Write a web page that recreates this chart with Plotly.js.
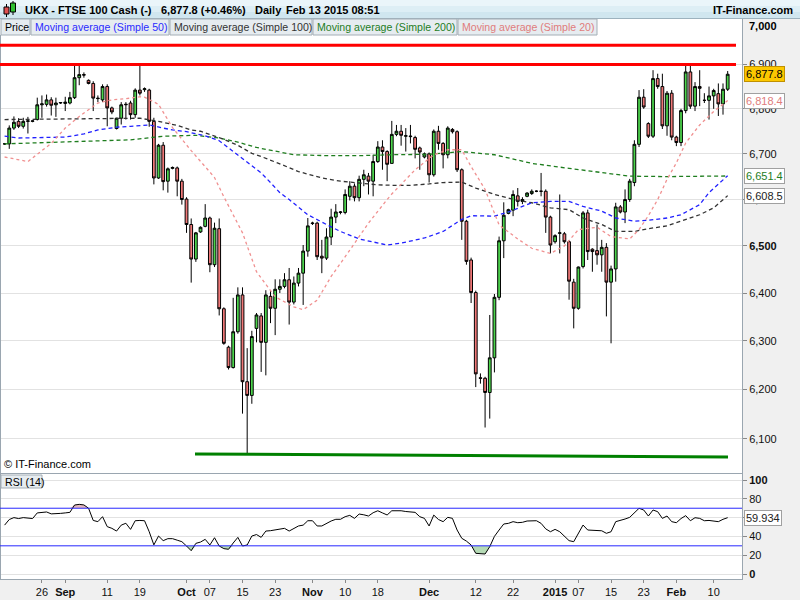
<!DOCTYPE html>
<html><head><meta charset="utf-8">
<script src="https://cdn.plot.ly/plotly-3.0.1.min.js"></script>
<style>html,body{margin:0;padding:0;background:#fff}#chart{width:800px;height:600px}</style>
</head><body><div id="chart"></div>
<script>
// ---- sessions (Sun-Fri CFD sessions) ----
const sessionDays = {
  "2014-08": [17,18,19,20,21,22,24,25,26,27,28,29,31],
  "2014-09": [1,2,3,4,5,7,8,9,10,11,12,14,15,16,17,18,19,21,22,23,24,25,26,28,29,30],
  "2014-10": [1,2,3,5,6,7,8,9,10,12,13,14,15,16,17,19,20,21,22,23,24,26,27,28,29,30,31],
  "2014-11": [2,3,4,5,6,7,9,10,11,12,13,14,16,17,18,19,20,21,23,24,25,26,27,28,30],
  "2014-12": [1,2,3,4,5,7,8,9,10,11,12,14,15,16,17,18,19,21,22,23,24,25,26,28,29,30,31],
  "2015-01": [1,2,4,5,6,7,8,9,11,12,13,14,15,16,18,19,20,21,22,23,25,26,27,28,29,30],
  "2015-02": [1,2,3,4,5,6,8,9,10,11,12,13]
};
const dates = [];
Object.keys(sessionDays).forEach(m => sessionDays[m].forEach(d => dates.push(m + "-" + String(d).padStart(2,"0"))));

const open = [6722,6722,6757,6772,6761,6772,6772,6776,6809,6810,
6820,6809,6813,6812,6813,6825,6870,6877,6864,6857,
6824,6820,6850,6802,6756,6779,6809,6813,6787,6842,
6843,6842,6772,6647,6719,6640,6668,6669,6640,6601,
6546,6472,6530,6542,6560,6460,6537,6367,6287,6245,
6319,6396,6216,6188,6326,6352,6297,6393,6368,6408,
6414,6428,6381,6421,6442,6489,6548,6549,6478,6474,
6519,6562,6572,6572,6607,6629,6604,6644,6651,6640,
6683,6715,6705,6679,6743,6750,6739,6738,6736,6713,
6693,6700,6654,6750,6723,6698,6754,6749,6665,6553,
6470,6401,6224,6223,6194,6265,6391,6511,6570,6577,
6608,6596,6607,6613,6618,6618,6618,6562,6509,6527,
6526,6509,6423,6368,6456,6571,6493,6490,6481,6497,
6423,6451,6584,6573,6600,6637,6721,6826,6767,6739,
6868,6850,6762,6835,6737,6725,6796,6883,6806,6850,
6819,6819,6829,6834,6811,6844];
const high = [6724,6763,6783,6779,6780,6782,6774,6825,6830,6832,
6826,6825,6815,6827,6838,6900,6898,6882,6866,6862,
6830,6855,6855,6805,6780,6815,6815,6818,6846,6902,
6848,6845,6780,6722,6726,6670,6672,6672,6645,6605,
6559,6530,6542,6590,6563,6550,6559,6370,6290,6390,
6412,6412,6285,6321,6358,6358,6406,6406,6429,6429,
6442,6453,6435,6453,6502,6560,6552,6552,6513,6538,
6580,6590,6575,6622,6640,6635,6652,6665,6658,6698,
6728,6730,6708,6773,6764,6764,6757,6764,6740,6716,
6703,6703,6754,6762,6726,6761,6757,6752,6668,6556,
6475,6405,6233,6226,6354,6398,6520,6594,6580,6620,
6625,6605,6616,6622,6620,6658,6622,6565,6525,6611,
6530,6512,6430,6456,6575,6578,6495,6546,6513,6506,
6458,6593,6588,6622,6645,6730,6842,6844,6770,6887,
6879,6879,6840,6842,6740,6800,6900,6900,6860,6887,
6835,6850,6845,6857,6857,6885];
const low = [6720,6711,6753,6757,6756,6745,6770,6774,6780,6805,
6785,6782,6811,6795,6810,6822,6853,6870,6855,6795,
6815,6815,6761,6788,6754,6765,6776,6776,6780,6830,
6838,6760,6633,6645,6620,6615,6666,6607,6589,6528,
6422,6466,6528,6540,6444,6455,6353,6292,6241,6243,
6315,6151,6070,6171,6297,6236,6229,6337,6312,6400,
6410,6334,6376,6414,6375,6477,6545,6470,6442,6470,
6502,6549,6568,6568,6598,6596,6596,6629,6611,6607,
6680,6665,6640,6679,6739,6718,6705,6723,6690,6665,
6690,6637,6650,6709,6668,6690,6745,6660,6513,6460,
6379,6205,6212,6123,6141,6235,6385,6474,6568,6564,
6585,6590,6605,6610,6616,6607,6528,6484,6505,6484,
6505,6386,6326,6365,6452,6470,6445,6460,6445,6351,
6295,6424,6570,6549,6595,6629,6715,6800,6735,6735,
6845,6755,6740,6730,6717,6717,6790,6800,6795,6806,
6813,6776,6800,6784,6787,6840];
const close = [6722,6757,6770,6761,6772,6773,6773,6809,6811,6820,
6808,6813,6814,6815,6825,6870,6877,6876,6857,6824,
6823,6850,6802,6793,6779,6809,6810,6787,6842,6835,
6845,6772,6647,6719,6639,6667,6670,6640,6600,6546,
6472,6528,6540,6560,6460,6538,6367,6295,6245,6319,
6396,6216,6188,6309,6354,6297,6396,6368,6408,6414,
6428,6381,6421,6442,6489,6543,6549,6477,6474,6519,
6562,6573,6573,6611,6629,6604,6644,6654,6640,6683,
6715,6705,6677,6743,6750,6741,6740,6739,6710,6704,
6700,6654,6750,6723,6698,6757,6749,6665,6553,6467,
6401,6232,6223,6194,6265,6391,6511,6566,6578,6611,
6596,6600,6614,6618,6618,6618,6562,6502,6522,6528,
6509,6425,6368,6455,6571,6488,6488,6481,6497,6423,
6451,6584,6573,6600,6640,6721,6826,6804,6739,6868,
6850,6762,6835,6737,6725,6796,6883,6806,6850,6846,
6819,6829,6841,6811,6844,6877.8];

// Moving averages (date, value)
const sma20Dates = ["2014-08-17","2014-08-22","2014-08-26","2014-08-28","2014-09-01","2014-09-04","2014-09-09","2014-09-12","2014-09-17","2014-09-19","2014-09-21","2014-09-24","2014-09-28","2014-10-02","2014-10-07","2014-10-08","2014-10-10","2014-10-15","2014-10-19","2014-10-20","2014-10-23","2014-10-28","2014-10-30","2014-11-03","2014-11-06","2014-11-11","2014-11-16","2014-11-20","2014-11-21","2014-11-24","2014-11-27","2014-12-02","2014-12-05","2014-12-09","2014-12-11","2014-12-15","2014-12-18","2014-12-23","2014-12-26","2014-12-31","2015-01-04","2015-01-07","2015-01-12","2015-01-15","2015-01-20","2015-01-22","2015-01-25","2015-01-27","2015-01-29","2015-02-01","2015-02-03","2015-02-06","2015-02-10","2015-02-13"];
const sma20Vals = [6693,6683,6707,6723,6757,6783,6813,6820,6824,6827,6826,6810,6758,6707,6660,6648,6606,6528,6445,6432,6392,6371,6365,6385,6435,6491,6549,6600,6612,6633,6665,6698,6709,6709,6672,6622,6545,6515,6495,6484,6500,6535,6540,6520,6515,6535,6565,6600,6644,6680,6724,6764,6794,6818.4];

const sma50Dates = ["2014-08-17","2014-08-20","2014-09-01","2014-09-05","2014-09-09","2014-09-14","2014-09-17","2014-09-22","2014-09-25","2014-09-28","2014-10-01","2014-10-06","2014-10-09","2014-10-13","2014-10-16","2014-10-19","2014-10-20","2014-10-22","2014-10-24","2014-10-27","2014-10-31","2014-11-05","2014-11-09","2014-11-13","2014-11-20","2014-11-24","2014-11-30","2014-12-04","2014-12-09","2014-12-11","2014-12-17","2014-12-21","2014-12-26","2014-12-31","2015-01-05","2015-01-08","2015-01-13","2015-01-16","2015-01-21","2015-01-25","2015-01-29","2015-02-02","2015-02-06","2015-02-09","2015-02-13"];
const sma50Vals = [6739,6735,6737,6744,6753,6759,6761,6764,6757,6753,6749,6740,6729,6705,6683,6665,6658,6637,6615,6600,6567,6546,6531,6515,6502,6506,6517,6531,6557,6565,6564,6573,6593,6596,6596,6585,6575,6560,6553,6555,6560,6567,6589,6615,6652];

const sma100Dates = ["2014-08-17","2014-08-28","2014-09-09","2014-09-19","2014-09-24","2014-09-29","2014-10-02","2014-10-05","2014-10-09","2014-10-14","2014-10-17","2014-10-20","2014-10-24","2014-10-29","2014-11-04","2014-11-09","2014-11-13","2014-11-18","2014-11-21","2014-11-26","2014-12-01","2014-12-04","2014-12-09","2014-12-12","2014-12-17","2014-12-21","2014-12-23","2014-12-26","2014-12-31","2015-01-05","2015-01-08","2015-01-13","2015-01-16","2015-01-21","2015-01-25","2015-01-29","2015-02-02","2015-02-06","2015-02-10","2015-02-13"];
const sma100Vals = [6776,6777,6778,6779,6772,6763,6753,6750,6736,6719,6701,6694,6678,6661,6647,6640,6636,6632,6631,6631,6634,6637,6638,6625,6611,6603,6598,6593,6582,6578,6560,6546,6531,6531,6537,6543,6553,6567,6582,6608.5];

const sma200Dates = ["2014-08-17","2014-08-24","2014-09-01","2014-09-09","2014-09-17","2014-09-25","2014-10-03","2014-10-09","2014-10-14","2014-10-19","2014-10-24","2014-10-28","2014-11-05","2014-11-13","2014-11-21","2014-12-01","2014-12-09","2014-12-17","2014-12-21","2014-12-26","2015-01-05","2015-01-13","2015-01-20","2015-01-29","2015-02-13"];
const sma200Vals = [6722,6724,6725,6728,6731,6739,6741,6735,6726,6714,6705,6698,6696,6696,6698,6699,6705,6698,6691,6679,6668,6658,6651,6650,6651.4];

const rsi = [52,58,60,59,60,59.5,59,65,65.5,66,
64,64,64.5,65,65.6,73.4,74.1,73.5,70,57,
55.7,61,50.4,48.6,45.7,52,54,47.5,56.7,57,
56.7,45,31,40.4,35.5,37.6,37.6,36,34.4,29.8,
24.8,32.6,34,36.9,30.9,38.6,29.8,27,26.3,33,
39,29.8,30.9,40.4,42,39,45.7,46.1,47,48,
48.6,45.7,48.6,51.1,52,56.7,56.7,51.1,51.1,54,
56.4,58.2,58.2,61,62.4,59.2,63.8,63,61.7,65.2,
67.3,65,62.8,67.3,67.5,67.3,66.5,66.3,65.6,61,
59.2,51.1,62.7,58,55.7,60.3,59.2,46.8,38,35,
30.9,22,21.8,21.3,29.1,40,46.8,53.2,53.9,55.7,
54.6,55,56.4,56.5,56.7,53.9,48,45,47.5,45,
40.4,35.5,34.4,43,52.1,46.8,46.5,46.8,46,43.3,
45,55.7,56.7,58.5,60.3,65,69.9,68.1,61.7,68.1,
66.3,59.2,61.7,55.7,54.6,59,62.1,56.7,59.9,59.2,
56.7,57,56.7,55.7,58.2,59.934];

const resistanceLevels = [6944, 6900];
const supportStart = 6070, supportEnd = 6064;
const rsiUpper = 70, rsiLower = 30;

const tickDates = ["2014-08-26","2014-09-01","2014-09-11","2014-09-19","2014-10-01","2014-10-07","2014-10-15","2014-10-23","2014-11-02","2014-11-10","2014-11-18","2014-12-01","2014-12-12","2014-12-22","2015-01-01","2015-01-07","2015-01-15","2015-01-23","2015-02-01","2015-02-10"];
const tickText = ["26","<b>Sep</b>","11","19","<b>Oct</b>","07","15","23","<b>Nov</b>","10","18","<b>Dec</b>","12","22","<b>2015</b>","07","15","23","<b>Feb</b>","10"];
const priceTicks = [6100,6200,6300,6400,6500,6600,6700,6800,6900];
const priceTickText = ["6,100","6,200","6,300","6,400","<b>6,500</b>","6,600","6,700","6,800","6,900"];

// ---- geometry helpers (pixel -> paper) ----
const W = 800, H = 600;
const px = x => x / W, py = y => 1 - y / H;
const FONT = "Liberation Sans, Arial, sans-serif";

const maLine = (xs, ys, color, dash) => ({type:"scatter", mode:"lines", x:xs, y:ys, xaxis:"x", yaxis:"y",
  line:{color:color, width:1.3, dash:dash}, hoverinfo:"skip", showlegend:false});

const traces = [
  {type:"candlestick", x:dates, open:open, high:high, low:low, close:close, xaxis:"x", yaxis:"y",
   increasing:{fillcolor:"#4cd44c", line:{color:"#000", width:1}},
   decreasing:{fillcolor:"#f07878", line:{color:"#000", width:1}},
   whiskerwidth:0, hoverinfo:"skip", showlegend:false},
  maLine(sma200Dates, sma200Vals, "#1e7d1e", "4px,3px"),
  maLine(sma100Dates, sma100Vals, "#333333", "4px,3px"),
  maLine(sma50Dates, sma50Vals, "#2020ff", "4px,3px"),
  maLine(sma20Dates, sma20Vals, "#f09090", "3px,3px"),
  // RSI shading
  {type:"scatter", mode:"lines", x:dates, y:dates.map(()=>rsiUpper), xaxis:"x", yaxis:"y2", line:{width:0}, hoverinfo:"skip", showlegend:false},
  {type:"scatter", mode:"lines", x:dates, y:rsi.map(v=>Math.max(v,rsiUpper)), xaxis:"x", yaxis:"y2", line:{width:0}, fill:"tonexty", fillcolor:"#e3b8bd", hoverinfo:"skip", showlegend:false},
  {type:"scatter", mode:"lines", x:dates, y:dates.map(()=>rsiLower), xaxis:"x", yaxis:"y2", line:{width:0}, hoverinfo:"skip", showlegend:false},
  {type:"scatter", mode:"lines", x:dates, y:rsi.map(v=>Math.min(v,rsiLower)), xaxis:"x", yaxis:"y2", line:{width:0}, fill:"tonexty", fillcolor:"#b5dab5", hoverinfo:"skip", showlegend:false},
  {type:"scatter", mode:"lines", x:dates, y:rsi, xaxis:"x", yaxis:"y2", line:{color:"#000", width:1}, hoverinfo:"skip", showlegend:false}
];

const lg = Math.log10;
const shapes = [
  // title bar gradient
  {type:"rect", xref:"paper", yref:"paper", x0:0, x1:1, y0:py(6), y1:py(0), fillcolor:"#eaf5fa", line:{width:0}, layer:"below"},
  {type:"rect", xref:"paper", yref:"paper", x0:0, x1:1, y0:py(12), y1:py(6), fillcolor:"#ddeef5", line:{width:0}, layer:"below"},
  {type:"rect", xref:"paper", yref:"paper", x0:0, x1:1, y0:py(18.5), y1:py(12), fillcolor:"#d0e6ef", line:{width:0}, layer:"below"},
  {type:"line", xref:"paper", yref:"paper", x0:0, x1:1, y0:py(18.5), y1:py(18.5), line:{color:"#9db2be", width:1}},
  // right axis panel & bottom strip
  {type:"rect", xref:"paper", yref:"paper", x0:px(742), x1:1, y0:0, y1:py(19), fillcolor:"#f0f0f0", line:{width:0}, layer:"below"},
  {type:"rect", xref:"paper", yref:"paper", x0:0, x1:1, y0:0, y1:py(580), fillcolor:"#f0f0f0", line:{width:0}, layer:"below"},
  // frame lines
  {type:"line", xref:"paper", yref:"paper", x0:px(742.5), x1:px(742.5), y0:py(580), y1:py(19), line:{color:"#9aa6b0", width:1}},
  {type:"line", xref:"paper", yref:"paper", x0:px(0.5), x1:px(0.5), y0:py(580), y1:py(35), line:{color:"#9aa6b0", width:1}},
  {type:"line", xref:"paper", yref:"paper", x0:0, x1:px(742.5), y0:py(473.5), y1:py(473.5), line:{color:"#9aa6b0", width:1}},
  {type:"line", xref:"paper", yref:"paper", x0:0, x1:px(742.5), y0:py(579.5), y1:py(579.5), line:{color:"#9aa6b0", width:1}},
  // legend boxes
  ...[[1,30],[31,169],[170,312],[313,457],[458,597]].map(b => ({type:"rect", xref:"paper", yref:"paper", x0:px(b[0]), x1:px(b[1]), y0:py(35), y1:py(19), fillcolor:"#e6ecf0", line:{color:"#a4aeb6", width:1}})),
  // RSI label box
  {type:"rect", xref:"paper", yref:"paper", x0:px(1), x1:px(42), y0:py(488), y1:py(475), fillcolor:"#e6ecf0", line:{color:"#a4aeb6", width:1}},
  // icon candles
  {type:"line", xref:"paper", yref:"paper", x0:px(6.5), x1:px(6.5), y0:py(17), y1:py(4), line:{color:"#000", width:1}},
  {type:"rect", xref:"paper", yref:"paper", x0:px(4), x1:px(9), y0:py(14), y1:py(7), fillcolor:"#e05050", line:{color:"#000", width:1}},
  {type:"line", xref:"paper", yref:"paper", x0:px(13), x1:px(13), y0:py(15), y1:py(1), line:{color:"#000", width:1}},
  {type:"rect", xref:"paper", yref:"paper", x0:px(10.5), x1:px(15.5), y0:py(12), y1:py(3), fillcolor:"#30c030", line:{color:"#000", width:1}},
  // resistance / support (shape coordinates on a log axis are data values)
  ...resistanceLevels.map(v => ({type:"line", xref:"paper", yref:"y", x0:0, x1:px(736), y0:v, y1:v, line:{color:"#ff0000", width:3}})),
  {type:"line", xref:"paper", yref:"y", x0:px(195), x1:px(728), y0:supportStart, y1:supportEnd, line:{color:"#008000", width:3}},
  // RSI bands
  {type:"line", xref:"paper", yref:"y2", x0:0, x1:px(742), y0:rsiUpper, y1:rsiUpper, line:{color:"#2828ff", width:1}},
  {type:"line", xref:"paper", yref:"y2", x0:0, x1:px(742), y0:rsiLower, y1:rsiLower, line:{color:"#2828ff", width:1}}
];

const ann = (x, y, text, opts) => Object.assign({xref:"paper", yref:"paper", x:px(x), y:py(y), text:text, showarrow:false,
  xanchor:"left", yanchor:"middle", font:{family:FONT, size:11, color:"#000"}}, opts || {});

const valBox = (val, txt, yref, color, bg, border) => ({xref:"paper", yref:yref, x:px(744), y:(yref==="y"?lg(val):val), text:txt,
  showarrow:false, xanchor:"left", yanchor:"middle", bgcolor:bg, bordercolor:border, borderwidth:1, borderpad:1,
  font:{family:FONT, size:11, color:color}});

const annotations = [
  ann(23, 10, "<b>UKX - FTSE 100 Cash (-)</b>"),
  ann(159, 10, "<b>6,877.8 (+0.46%)</b>"),
  ann(253, 10, "<b>Daily</b>"),
  ann(284, 10, "<b>Feb 13 2015 08:51</b>"),
  ann(795, 10, "<b>IT-Finance.com</b>", {xanchor:"right"}),
  ann(3, 27, "Price", {font:{family:FONT, size:10.6, color:"#000"}}),
  ann(33, 27, "Moving average (Simple 50)", {font:{family:FONT, size:10.6, color:"#2a2aff"}}),
  ann(172, 27, "Moving average (Simple 100)", {font:{family:FONT, size:10.6, color:"#333333"}}),
  ann(315, 27, "Moving average (Simple 200)", {font:{family:FONT, size:10.6, color:"#1e7d1e"}}),
  ann(460, 27, "Moving average (Simple 20)", {font:{family:FONT, size:10.6, color:"#e07c7c"}}),
  ann(747, 26, "<b>7,000</b>"),
  ann(2, 464, "© IT-Finance.com"),
  ann(3, 481.5, "RSI (14)", {font:{family:FONT, size:10.6, color:"#000"}}),
  valBox(close[close.length-1], "6,877.8", "y", "#000", "#fcc800", "#c09000"),
  valBox(sma20Vals[sma20Vals.length-1], "6,818.4", "y", "#e07c7c", "#ffffff", "#a0a0a0"),
  valBox(sma200Vals[sma200Vals.length-1], "6,651.4", "y", "#1e7d1e", "#ffffff", "#a0a0a0"),
  valBox(sma100Vals[sma100Vals.length-1], "6,608.5", "y", "#222", "#ffffff", "#a0a0a0"),
  valBox(rsi[rsi.length-1], "59.934", "y2", "#222", "#ffffff", "#a0a0a0")
];

const layout = {
  width:W, height:H, margin:{l:0, r:0, t:0, b:0}, paper_bgcolor:"#ffffff", plot_bgcolor:"#ffffff",
  showlegend:false, boxgap:0.15, hovermode:false,
  font:{family:FONT, size:11, color:"#000"},
  xaxis:{type:"category", categoryorder:"array", categoryarray:dates, domain:[px(1), px(742)],
    range:[-0.77, 158.07], anchor:"y2", tickmode:"array", tickvals:tickDates, ticktext:tickText,
    ticks:"outside", ticklen:3, tickcolor:"#888", showgrid:false, showline:false, zeroline:false,
    rangeslider:{visible:false}, tickfont:{family:FONT, size:11, color:"#111"}, fixedrange:true},
  yaxis:{type:"log", domain:[py(472), py(36)], range:[lg(6034), lg(6964.9)], side:"right", anchor:"x",
    tickmode:"array", tickvals:priceTicks, ticktext:priceTickText, ticks:"outside", ticklen:4, tickcolor:"#888",
    showgrid:true, gridcolor:"#e2e2e2", gridwidth:1, showline:false, zeroline:false,
    tickfont:{family:FONT, size:11, color:"#111"}, fixedrange:true},
  yaxis2:{domain:[py(579), py(474)], range:[-5.3, 106.4], side:"right", anchor:"x",
    tickmode:"array", tickvals:[0,20,40,60,80,100], ticktext:["<b>0</b>","20","40","60","80","<b>100</b>"],
    ticks:"outside", ticklen:4, tickcolor:"#888", showgrid:true, gridcolor:"#e2e2e2", showline:false, zeroline:false,
    tickfont:{family:FONT, size:11, color:"#111"}, fixedrange:true},
  shapes:shapes, annotations:annotations
};

Plotly.newPlot("chart", traces, layout, {staticPlot:true, displayModeBar:false});
</script>
</body></html>
